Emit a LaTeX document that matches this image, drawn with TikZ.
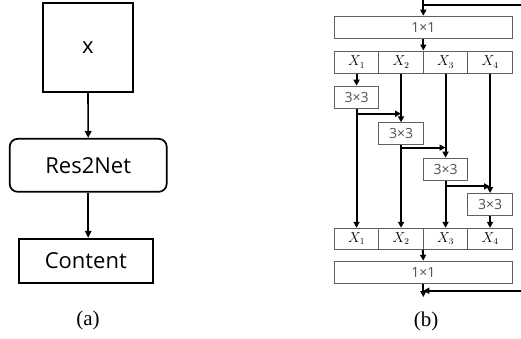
\documentclass[tikz,border=0pt]{standalone}
\usepackage{fontspec}
\setmainfont{Liberation Serif}
\newfontfamily\blocksans{Open Sans}
\usetikzlibrary{arrows.meta}
\definecolor{edgegray}{HTML}{606060}
\definecolor{textgray}{HTML}{505050}
\tikzset{
  bigbox/.style={draw=black, line width=1.7pt, inner sep=0pt, font=\blocksans\fontsize{22}{26}\selectfont},
  gbox/.style={draw=edgegray, line width=1pt, inner sep=0pt, minimum height=22pt},
  cell/.style={gbox, minimum width=44.5pt, font=\fontsize{13.5}{15}\selectfont},
  conv/.style={gbox, minimum width=44.5pt, text=textgray, font=\blocksans\fontsize{14}{16}\selectfont},
  wide/.style={gbox, minimum width=178pt, text=textgray, font=\blocksans\fontsize{14}{16}\selectfont},
  flow/.style={line width=1.6pt, -{Triangle[length=7pt,width=6.5pt]}},
  thick flow/.style={line width=1.9pt, -{Triangle[length=6pt,width=6pt]}},
  plainline/.style={line width=1.9pt},
  caption/.style={font=\fontsize{21}{24}\selectfont}
}
\begin{document}
\begin{tikzpicture}[x=1pt, y=-1pt]
\useasboundingbox (0,0) rectangle (521,338);

% ---- (a) overall pipeline ----
\node[bigbox, minimum width=90pt, minimum height=89pt] (inp) at (88,47.5) {x};
\node[bigbox, rounded corners=8pt, minimum width=157pt, minimum height=53pt] (res) at (88.2,165.3) {Res2Net};
\node[bigbox, minimum width=133.7pt, minimum height=44.6pt] (cont) at (85.8,261) {Content};
\draw[flow] (inp.south) -- (res.north);
\draw[flow] (res.south) -- (res.south |- cont.north);
\node[caption] (capa) at (88,320) {(a)};

% ---- (b) Res2Net block ----
\coordinate (inT) at (423.3,0);
\coordinate (inR) at (521,5);
\coordinate (inC) at (423.3,5);
\node[wide] (top) at (423.3,27.2) {1×1};

% split row
\node[cell] (t1) at (356.55,62) {$X_1$};
\node[cell] (t2) at (401.05,62) {$X_2$};
\node[cell] (t3) at (445.55,62) {$X_3$};
\node[cell] (t4) at (490.05,62) {$X_4$};

% 3x3 convolutions
\node[conv] (k1) at (356.55,97.2) {3×3};
\node[conv] (k2) at (401.05,133.8) {3×3};
\node[conv] (k3) at (445.55,169.2) {3×3};
\node[conv] (k4) at (490.05,204.5) {3×3};

% concatenation row
\node[cell, minimum height=21pt] (b1) at (356.55,238.8) {$X_1$};
\node[cell, minimum height=21pt] (b2) at (401.05,238.8) {$X_2$};
\node[cell, minimum height=21pt] (b3) at (445.55,238.8) {$X_3$};
\node[cell, minimum height=21pt] (b4) at (490.05,238.8) {$X_4$};

\node[wide] (bot) at (423.3,272.2) {1×1};

% identity shortcut
\coordinate (outC) at (423.3,290.7);
\coordinate (outR) at (521,290.7);
\coordinate (outE) at (423.3,297);

% connectors
\draw[plainline] (inR) -- (inC);
\draw[thick flow] (inT) -- (top.north);
\draw[thick flow] (top.south) -- (top.south |- t1.north);

\draw[thick flow] (t1.south) -- (k1.north);
\draw[thick flow] (t2.south) -- (k2.north);
\draw[thick flow] (t3.south) -- (k3.north);
\draw[thick flow] (t4.south) -- (k4.north);

\draw[thick flow] (k1.south) -- (b1.north);
\draw[thick flow] (k2.south) -- (b2.north);
\draw[thick flow] (k3.south) -- (b3.north);
\draw[thick flow] (k4.south) -- (b4.north);

% hierarchical residual branches
\draw[thick flow] ([yshift=-5pt]k1.south) -- ([yshift=-5pt]k1.south -| k2.north);
\draw[thick flow] ([yshift=-2.3pt]k2.south) -- ([yshift=-2.3pt]k2.south -| k3.north);
\draw[thick flow] ([yshift=-5.7pt]k3.south) -- ([yshift=-5.7pt]k3.south -| k4.north);

\draw[thick flow] (b3.south west) -- (bot.north);
\draw[thick flow] (bot.south) -- (outE);
\draw[thick flow] (outR) -- (outC);

\node[caption] (capb) at (426,321.7) {(b)};
\end{tikzpicture}
\end{document}
